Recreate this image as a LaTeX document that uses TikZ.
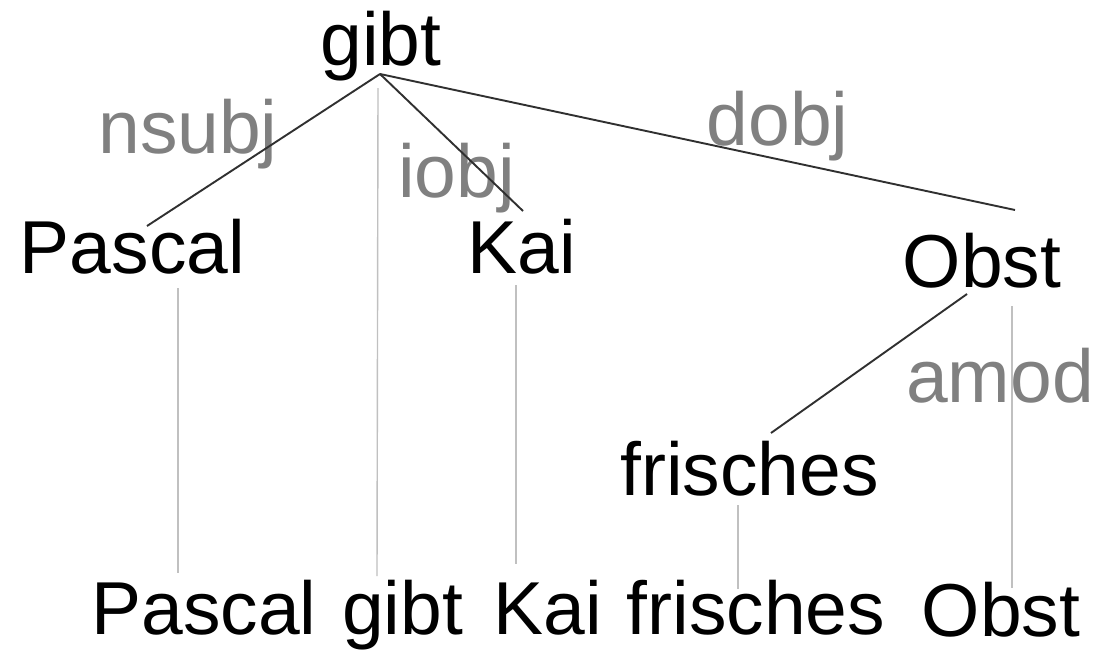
\documentclass[tikz,border=0pt]{standalone}
\usepackage{fontspec}
\setmainfont{Liberation Sans}
\definecolor{labelgray}{HTML}{808080}
\definecolor{edgecol}{HTML}{303030}
\definecolor{guidecol}{HTML}{C0C0C0}
\begin{document}
\begin{tikzpicture}[x=1pt,y=-1pt,
  word/.style={inner sep=0pt, anchor=base, font=\fontsize{75}{80}\selectfont, text=black},
  rel/.style={inner sep=0pt, anchor=base, font=\fontsize{75}{80}\selectfont, text=labelgray},
  edge/.style={draw=edgecol, line width=1.9pt},
  guide/.style={draw=guidecol, line width=1.4pt}]
\useasboundingbox[fill=white] (0,0) rectangle (1097,654);

% tree nodes
\node[word] (gibt) at (381,65) {gibt};
\node[word] (pascal) at (132.5,273) {Pascal};
\node[word] (kai) at (522,273) {Kai};
\node[word] (obst) at (982,287) {Obst};
\node[word] (frisches) at (749.5,495) {frisches};

% relation labels
\node[rel] (nsubj) at (188,153) {nsubj};
\node[rel] (iobj) at (456.5,197) {iobj};
\node[rel] (dobj) at (777.5,145) {dobj};
\node[rel] (amod) at (1000,402) {amod};

% sentence words
\node[word] (wpascal) at (204,634) {Pascal};
\node[word] (wgibt) at (402.5,634) {gibt};
\node[word] (wkai) at (548,634) {Kai};
\node[word] (wfrisches) at (756,634) {frisches};
\node[word] (wobst) at (1001,636) {Obst};

% attachment points
\coordinate (gibtpt) at (380,74);
\coordinate (pascaltop) at (147,226);
\coordinate (kaitop) at (523,211);
\coordinate (obsttop) at (1015,210);
\coordinate (obstpt) at (967,294);
\coordinate (frtop) at (771,433);

\coordinate (gpascal1) at (178,288);
\coordinate (gpascal2) at (178,573);
\coordinate (ggibt1) at (378,88);
\coordinate (ggibt2) at (377,576);
\coordinate (gkai1) at (516,285);
\coordinate (gkai2) at (516,564);
\coordinate (gfr1) at (738,505);
\coordinate (gfr2) at (738,589);
\coordinate (gobst1) at (1012,306);
\coordinate (gobst2) at (1012,588);

% guide lines
\draw[guide] (gpascal1) -- (gpascal2);
\draw[guide] (ggibt1) -- (ggibt2);
\draw[guide] (gkai1) -- (gkai2);
\draw[guide] (gfr1) -- (gfr2);
\draw[guide] (gobst1) -- (gobst2);

% dependency edges
\draw[edge] (gibtpt) -- (pascaltop);
\draw[edge] (gibtpt) -- (kaitop);
\draw[edge] (gibtpt) -- (obsttop);
\draw[edge] (obstpt) -- (frtop);
\end{tikzpicture}
\end{document}
